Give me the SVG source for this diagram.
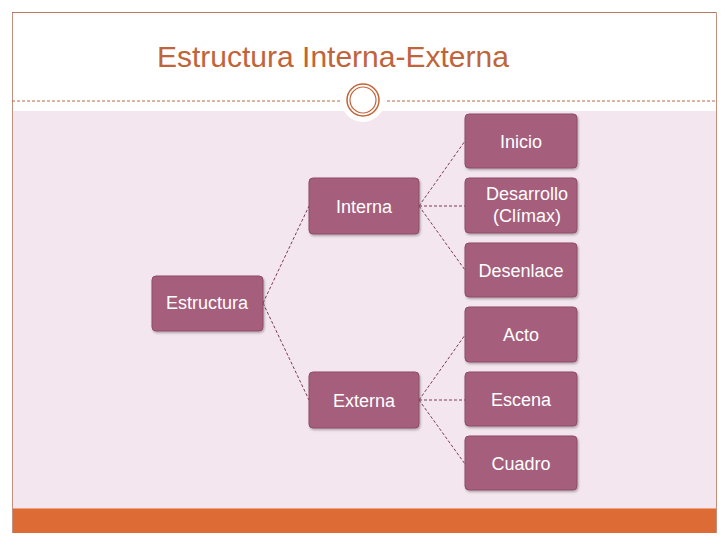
<svg xmlns="http://www.w3.org/2000/svg" width="728" height="546" viewBox="0 0 728 546">
<defs>
<style>
.n rect{fill:#a55f7d;stroke:#8d4b68;stroke-width:1}
.n text{fill:#fff;font-family:"Century Gothic","Liberation Sans",sans-serif;font-size:18px;text-anchor:middle}
.c line{stroke:#7a3b55;stroke-width:1;stroke-dasharray:3 2}
</style>
<filter id="sh" x="-10%" y="-10%" width="130%" height="130%"><feDropShadow dx="1" dy="1.5" stdDeviation="1.2" flood-color="#000" flood-opacity="0.3"/></filter>
</defs>
<rect width="728" height="546" fill="#fff"/>
<rect x="12" y="111" width="704" height="397" fill="#f4e6ee"/>
<rect x="12" y="508" width="704" height="25" fill="#dd6b35"/>
<line x1="12" y1="508.5" x2="716" y2="508.5" stroke="#f2a37d" stroke-width="1"/>
<path d="M12.5 533V12.5H716.5V533" fill="none" stroke="#c09080" stroke-width="1"/>
<line x1="12" y1="12.5" x2="716" y2="12.5" stroke="#b87a5e" stroke-width="1"/>
<line x1="12" y1="101" x2="716" y2="101" stroke="#b86a45" stroke-width="1" stroke-dasharray="3 2"/>
<circle cx="363" cy="100" r="22" fill="#fff"/>
<circle cx="363" cy="100" r="16" fill="none" stroke="#c0643a" stroke-width="1.5"/>
<circle cx="363" cy="100" r="13" fill="none" stroke="#c0643a" stroke-width="1.2"/>
<text x="157" y="67" font-family="'Century Gothic','Liberation Sans',sans-serif" font-size="30" fill="#c0643a">Estructura Interna-Externa</text>
<g class="c">
<line x1="263" y1="303" x2="309" y2="206"/>
<line x1="263" y1="303" x2="309" y2="400"/>
<line x1="419" y1="206" x2="465" y2="141"/>
<line x1="419" y1="206" x2="465" y2="206"/>
<line x1="419" y1="206" x2="465" y2="270"/>
<line x1="419" y1="400" x2="465" y2="335"/>
<line x1="419" y1="400" x2="465" y2="400"/>
<line x1="419" y1="400" x2="465" y2="464"/>
</g>
<g id="estructura" class="n"><rect x="152" y="276" width="111" height="55" rx="4" filter="url(#sh)"/><text x="207" y="309">Estructura</text></g>
<g id="interna" class="n"><rect x="309" y="178" width="110" height="56" rx="4" filter="url(#sh)"/><text x="364" y="213">Interna</text></g>
<g id="externa" class="n"><rect x="309" y="372" width="110" height="56" rx="4" filter="url(#sh)"/><text x="364" y="407">Externa</text></g>
<g id="inicio" class="n"><rect x="465" y="114" width="112" height="54" rx="4" filter="url(#sh)"/><text x="521" y="148">Inicio</text></g>
<g id="desarrollo" class="n"><rect x="465" y="178" width="112" height="55" rx="4" filter="url(#sh)"/><text x="527" y="200">Desarrollo</text><text x="527" y="222">(Clímax)</text></g>
<g id="desenlace" class="n"><rect x="465" y="243" width="112" height="54" rx="4" filter="url(#sh)"/><text x="521" y="277">Desenlace</text></g>
<g id="acto" class="n"><rect x="465" y="307" width="112" height="55" rx="4" filter="url(#sh)"/><text x="521" y="341">Acto</text></g>
<g id="escena" class="n"><rect x="465" y="372" width="112" height="54" rx="4" filter="url(#sh)"/><text x="521" y="406">Escena</text></g>
<g id="cuadro" class="n"><rect x="465" y="436" width="112" height="54" rx="4" filter="url(#sh)"/><text x="521" y="470">Cuadro</text></g>
</svg>
